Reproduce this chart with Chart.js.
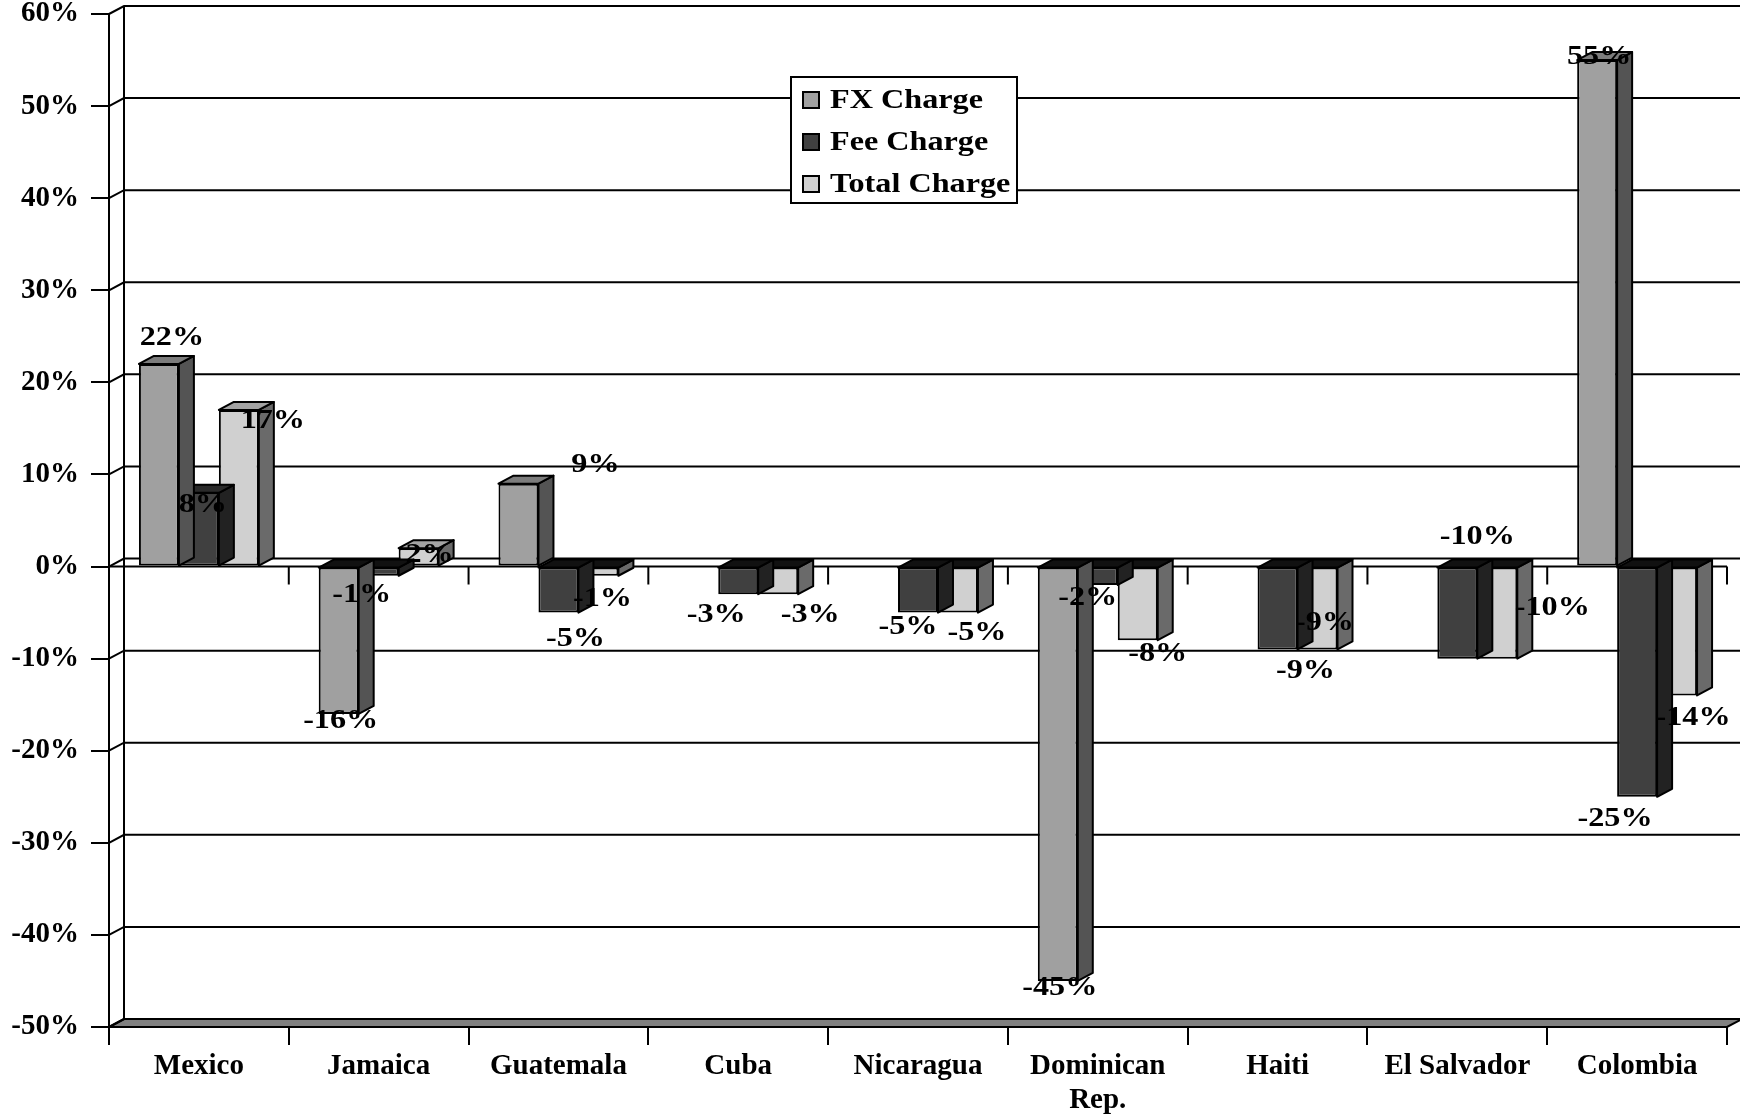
<!DOCTYPE html>
<html>
<head>
<meta charset="utf-8">
<script src="https://cdn.jsdelivr.net/npm/chart.js@4.4.0/dist/chart.umd.min.js"></script>
<style>
  html, body { margin: 0; padding: 0; background: #fff; }
</style>
</head>
<body>
<canvas id="chart" width="1740" height="1114"></canvas>
<script>
// data
const countries = ['Mexico', 'Jamaica', 'Guatemala', 'Cuba', 'Nicaragua', ['Dominican', 'Rep.'], 'Haiti', 'El Salvador', 'Colombia'];
const fxCharge = [22, -16, 9, null, null, -45, null, null, 55];
const feeCharge = [8, -1, -5, -3, -5, -2, -9, -10, -25];
const totalCharge = [17, 2, -1, -3, -5, -8, -9, -10, -14];
const yMin = -50;
const yMax = 60;
const yStep = 10;

// where the value labels sit, relative to the end of their bar (px)
const fxNudge = [[13, -26], [2, 7], [77, -19], null, null, [2, 7], null, null, [2, -3]];
const feeNudge = [[4, 12], [-17, 19], [17, 26], [-22, 21], [-10, 14], [-10, 13], [28, 21], [20, -122], [-22, 22]];
const totalNudge = [[34, 11], [11, 7], [4, 23], [32, 21], [19, 20], [20, 14], [7, -27], [55, -51], [16, 22]];

const DX = 15, DY = -8;   // depth of the 3d look
const FONT = 'bold 28px "Liberation Serif", "Times New Roman", serif';
const STRETCH = 1.15;     // the original text is drawn a bit wide

function wideText(ctx, text, x, y, align) {
  ctx.save();
  ctx.translate(x, y);
  ctx.scale(STRETCH, 1);
  ctx.textAlign = align;
  ctx.fillText(text, 0, 0);
  ctx.restore();
}

const wallPlugin = {
  id: 'wall',
  beforeDatasetsDraw(chart) {
    const ctx = chart.ctx;
    const { left, right, top, bottom } = chart.chartArea;
    const ys = chart.scales.y, xs = chart.scales.x;
    ctx.save();
    ctx.strokeStyle = '#000';
    ctx.lineWidth = 2;
    // floor
    ctx.fillStyle = '#808080';
    ctx.beginPath();
    ctx.moveTo(left, bottom);
    ctx.lineTo(right, bottom);
    ctx.lineTo(right + DX, bottom + DY);
    ctx.lineTo(left + DX, bottom + DY);
    ctx.closePath();
    ctx.fill();
    ctx.stroke();
    // back wall gridlines + side wall diagonals
    for (let v = yMin; v <= yMax; v += yStep) {
      const py = ys.getPixelForValue(v);
      ctx.beginPath();
      ctx.moveTo(left, py);
      ctx.lineTo(left + DX, py + DY);
      if (v > yMin) ctx.lineTo(chart.width, py + DY);
      ctx.stroke();
    }
    ctx.beginPath();
    ctx.moveTo(left + DX, ys.getPixelForValue(yMax) + DY);
    ctx.lineTo(left + DX, bottom + DY);
    ctx.stroke();
    // category axis at zero
    const y0 = ys.getPixelForValue(0);
    ctx.beginPath();
    ctx.moveTo(left, y0);
    ctx.lineTo(right, y0);
    for (let i = 0; i <= countries.length; i++) {
      const px = xs.getPixelForValue(i - 0.5);
      ctx.moveTo(px, y0);
      ctx.lineTo(px, y0 + 18);
    }
    ctx.stroke();
    ctx.restore();
  }
};

const facesPlugin = {
  id: 'faces',
  afterDatasetDraw(chart, args) {
    const ctx = chart.ctx;
    const ds = chart.data.datasets[args.index];
    ctx.save();
    ctx.strokeStyle = '#000';
    ctx.lineWidth = 2;
    ctx.lineJoin = 'round';
    args.meta.data.forEach((bar, i) => {
      if (ds.data[i] == null) return;
      const p = bar.getProps(['x', 'y', 'base', 'width']);
      const x1 = p.x - p.width / 2, x2 = p.x + p.width / 2;
      const yt = Math.min(p.y, p.base), yb = Math.max(p.y, p.base);
      ctx.fillStyle = ds.sideColor;
      ctx.beginPath();
      ctx.moveTo(x2, yt);
      ctx.lineTo(x2 + DX, yt + DY);
      ctx.lineTo(x2 + DX, yb + DY);
      ctx.lineTo(x2, yb);
      ctx.closePath();
      ctx.fill();
      ctx.stroke();
      ctx.fillStyle = ds.data[i] < 0 ? '#111' : ds.topColor;
      ctx.beginPath();
      ctx.moveTo(x1, yt);
      ctx.lineTo(x1 + DX, yt + DY);
      ctx.lineTo(x2 + DX, yt + DY);
      ctx.lineTo(x2, yt);
      ctx.closePath();
      ctx.fill();
      ctx.stroke();
    });
    ctx.restore();
  },
  afterDraw(chart) {
    const ctx = chart.ctx;
    ctx.save();
    ctx.font = FONT;
    ctx.fillStyle = '#000';
    ctx.textBaseline = 'middle';
    chart.data.datasets.forEach((ds, d) => {
      chart.getDatasetMeta(d).data.forEach((bar, i) => {
        if (ds.data[i] == null) return;
        const n = ds.nudge[i];
        wideText(ctx, ds.data[i] + '%', bar.x + n[0], bar.y + n[1], 'center');
      });
    });
    // legend
    const lx = 791, ly = 77, lw = 226, lh = 126;
    ctx.fillStyle = '#fff';
    ctx.fillRect(lx, ly, lw, lh);
    ctx.strokeStyle = '#000';
    ctx.lineWidth = 2;
    ctx.strokeRect(lx, ly, lw, lh);
    chart.data.datasets.forEach((ds, d) => {
      const cy = ly + 23 + d * 42;
      ctx.fillStyle = ds.backgroundColor;
      ctx.fillRect(lx + 12, cy - 8, 16, 16);
      ctx.strokeRect(lx + 12, cy - 8, 16, 16);
      ctx.fillStyle = '#000';
      wideText(ctx, ds.label, lx + 39, cy + 1, 'left');
    });
    ctx.restore();
  }
};

const ctx = document.getElementById('chart').getContext('2d');
const chart = new Chart(ctx, {
  type: 'bar',
  data: {
    labels: countries,
    datasets: [
      { label: 'FX Charge', data: fxCharge, backgroundColor: '#a0a0a0', sideColor: '#545454', topColor: '#7c7c7c', nudge: fxNudge },
      { label: 'Fee Charge', data: feeCharge, backgroundColor: '#404040', sideColor: '#222222', topColor: '#2a2a2a', nudge: feeNudge },
      { label: 'Total Charge', data: totalCharge, backgroundColor: '#d0d0d0', sideColor: '#6a6a6a', topColor: '#a4a4a4', nudge: totalNudge }
    ]
  },
  options: {
    responsive: false,
    animation: false,
    layout: { padding: { top: 14, right: 13, left: 0, bottom: 0 } },
    datasets: {
      bar: {
        categoryPercentage: 0.667,
        barPercentage: 1.0,
        borderColor: '#000',
        borderWidth: 2,
        borderSkipped: false
      }
    },
    plugins: {
      legend: { display: false },
      tooltip: { enabled: false }
    },
    scales: {
      x: {
        grid: { offset: true, drawOnChartArea: false, tickLength: 18, color: '#000', lineWidth: 2 },
        border: { display: true, color: '#000', width: 2 },
        ticks: { color: '#000', font: { family: '"Liberation Serif", serif', size: 29, weight: 'bold', lineHeight: 1.15 }, padding: 5, maxRotation: 0, autoSkip: false },
        afterFit: (s) => { s.height = 87; s.paddingLeft = 0; s.paddingRight = 0; }
      },
      y: {
        min: yMin,
        max: yMax,
        grid: { drawOnChartArea: false, tickLength: 18, color: '#000', lineWidth: 2 },
        border: { display: true, color: '#000', width: 2 },
        ticks: { stepSize: yStep, color: '#000', font: { family: '"Liberation Serif", serif', size: 29, weight: 'bold' }, padding: 12, callback: (v) => v + '%' },
        afterFit: (s) => { s.width = 109; s.paddingTop = 0; s.paddingBottom = 0; }
      }
    }
  },
  plugins: [wallPlugin, facesPlugin]
});
</script>
</body>
</html>
